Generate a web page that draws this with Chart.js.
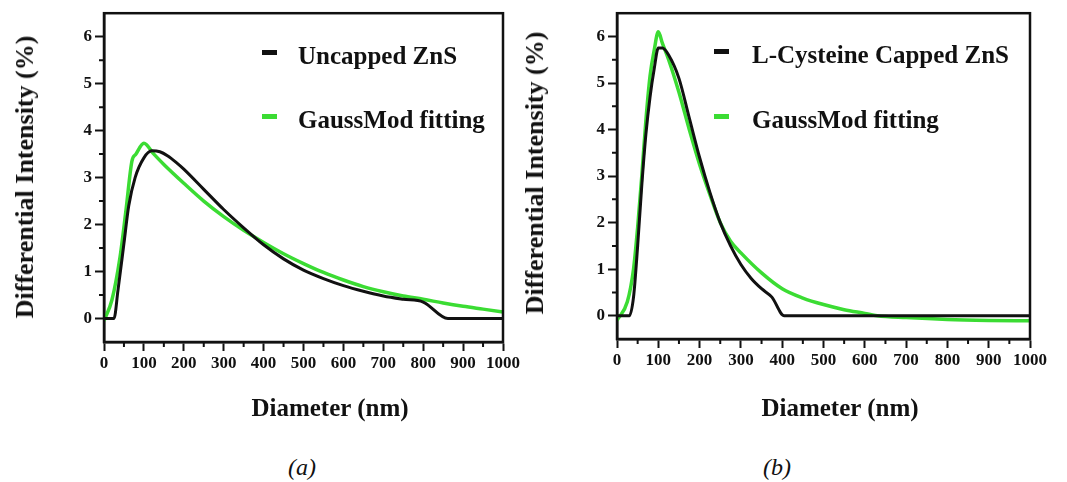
<!DOCTYPE html>
<html lang="en">
<head>
<meta charset="UTF-8">
<title>ZnS particle size distribution</title>
<script src="https://cdn.jsdelivr.net/npm/chart.js"></script>
<style>
  body { margin: 0; width: 1067px; height: 482px; background: #fff; position: relative; overflow: hidden;
         font-family: 'Liberation Serif', 'Times New Roman', serif; color: #111; }
  canvas { position: absolute; top: 0; }
  #chartA { left: 0; }
  #chartB { left: 530px; }
  .lbl { position: absolute; font-weight: bold; white-space: nowrap; font-size: 25px; line-height: 1; }
  .ytitle { font-size: 26px; transform: translate(-50%, -50%) rotate(-90deg); }
  .xtitle { transform: translate(-50%, -50%); }
  .cap { position: absolute; font-style: italic; font-size: 24px; line-height: 1; transform: translate(-50%, -50%); }
  .leg { transform: translateY(-50%); }
  .dash { position: absolute; width: 15px; height: 5px; }
</style>
</head>
<body>
<canvas id="chartA" width="530" height="400"></canvas>
<canvas id="chartB" width="537" height="400"></canvas>

<div class="lbl ytitle" style="left:25px; top:177px;">Differential Intensity (%)</div>
<div class="lbl ytitle" style="left:535px; top:173px;">Differential Intensity (%)</div>
<div class="lbl xtitle" style="left:330px; top:407px;">Diameter (nm)</div>
<div class="lbl xtitle" style="left:840px; top:407px;">Diameter (nm)</div>
<div class="cap" style="left:302px; top:467px;">(a)</div>
<div class="cap" style="left:777px; top:467px;">(b)</div>
<div id="legends"></div>

<script>
// axis ticks
const xTicks = [0, 100, 200, 300, 400, 500, 600, 700, 800, 900, 1000];
const xMinor = [50, 150, 250, 350, 450, 550, 650, 750, 850, 950];
const yTicks = [0, 1, 2, 3, 4, 5, 6];
const yMinor = [0.5, 1.5, 2.5, 3.5, 4.5, 5.5];

// (a) uncapped ZnS
const uncappedX = [0, 25, 35, 50, 62, 78, 100, 120, 140, 160, 180, 200, 250, 300, 350, 400, 450, 500, 550, 600, 650, 700, 750, 800, 862, 1000];
const uncappedY = [0, 0, 0.6, 1.6, 2.4, 3.0, 3.42, 3.57, 3.55, 3.46, 3.33, 3.18, 2.75, 2.32, 1.93, 1.57, 1.27, 1.03, 0.85, 0.7, 0.58, 0.48, 0.41, 0.35, 0, 0];
const uncappedFitX = [0, 20, 40, 55, 70, 80, 100, 125, 150, 200, 250, 300, 350, 400, 450, 500, 550, 600, 650, 700, 750, 800, 850, 900, 950, 1000];
const uncappedFitY = [-0.05, 0.4, 1.3, 2.3, 3.35, 3.5, 3.73, 3.5, 3.28, 2.88, 2.5, 2.17, 1.88, 1.62, 1.38, 1.17, 0.98, 0.82, 0.68, 0.57, 0.48, 0.41, 0.33, 0.26, 0.2, 0.14];

// (b) L-cysteine capped ZnS
const cappedX = [0, 30, 40, 50, 60, 70, 80, 90, 100, 110, 125, 150, 175, 200, 225, 250, 275, 300, 325, 350, 375, 405, 1000];
const cappedY = [0, 0, 0.4, 1.5, 2.8, 3.9, 4.7, 5.3, 5.75, 5.75, 5.6, 5.1, 4.25, 3.4, 2.65, 2.0, 1.5, 1.1, 0.8, 0.58, 0.4, 0, 0];
const cappedFitX = [0, 25, 40, 50, 60, 70, 80, 90, 100, 110, 125, 150, 175, 200, 225, 250, 275, 300, 350, 400, 450, 500, 550, 600, 630, 700, 800, 900, 1000];
const cappedFitY = [-0.1, 0.3, 1.0, 1.9, 3.0, 4.2, 5.15, 5.7, 6.1, 5.85, 5.5, 4.8, 4.0, 3.25, 2.6, 2.0, 1.6, 1.35, 0.92, 0.58, 0.38, 0.24, 0.13, 0.05, 0, -0.04, -0.08, -0.1, -0.11];

const BLACK = '#111111';
const GREEN = '#3bdc33';
const tickFont = { family: 'Liberation Serif', size: 17, weight: 'bold' };

function toPoints(xs, ys) {
  return xs.map((x, i) => ({ x: x, y: ys[i] }));
}

function line(label, xs, ys, color, width) {
  return {
    label: label,
    data: toPoints(xs, ys),
    borderColor: color,
    borderWidth: width,
    pointRadius: 0,
    fill: false,
    cubicInterpolationMode: 'monotone'
  };
}

// box around the plot + minor ticks
const frame = {
  id: 'frame',
  afterDraw(chart) {
    const { ctx, chartArea: a, scales } = chart;
    ctx.save();
    ctx.strokeStyle = BLACK;
    ctx.lineWidth = 2.5;
    ctx.strokeRect(a.left, a.top, a.right - a.left, a.bottom - a.top);
    ctx.lineWidth = 2;
    ctx.beginPath();
    xMinor.forEach(v => {
      const px = scales.x.getPixelForValue(v);
      ctx.moveTo(px, a.bottom);
      ctx.lineTo(px, a.bottom + 5);
    });
    yMinor.forEach(v => {
      const py = scales.y.getPixelForValue(v);
      ctx.moveTo(a.left, py);
      ctx.lineTo(a.left - 5, py);
    });
    ctx.stroke();
    ctx.restore();
  }
};

function makeChart(id, datasets, pad, yWidth, xHeight) {
  return new Chart(document.getElementById(id), {
    type: 'line',
    data: { datasets: datasets },
    options: {
      responsive: false,
      animation: false,
      layout: { padding: pad },
      plugins: { legend: { display: false }, tooltip: { enabled: false } },
      scales: {
        x: {
          type: 'linear', min: 0, max: 1000,
          afterBuildTicks: s => { s.ticks = xTicks.map(v => ({ value: v })); },
          afterFit: s => { s.height = xHeight; },
          grid: { drawOnChartArea: false, tickLength: 9, tickWidth: 2, tickColor: BLACK },
          border: { color: BLACK, width: 2.5 },
          ticks: { font: tickFont, color: BLACK, padding: 2, maxRotation: 0, callback: v => String(v) }
        },
        y: {
          type: 'linear', min: -0.5, max: 6.5,
          afterBuildTicks: s => { s.ticks = yTicks.map(v => ({ value: v })); },
          afterFit: s => { s.width = yWidth; },
          grid: { drawOnChartArea: false, tickLength: 9, tickWidth: 2, tickColor: BLACK },
          border: { color: BLACK, width: 2.5 },
          ticks: { font: tickFont, color: BLACK, padding: 3, callback: v => String(v) }
        }
      }
    },
    plugins: [frame]
  });
}

const setA = [
  line('Uncapped ZnS', uncappedX, uncappedY, BLACK, 3),
  line('GaussMod fitting', uncappedFitX, uncappedFitY, GREEN, 3.5)
];
const setB = [
  line('L-Cysteine Capped ZnS', cappedX, cappedY, BLACK, 3),
  line('GaussMod fitting', cappedFitX, cappedFitY, GREEN, 3.5)
];

makeChart('chartA', setA, { left: 0, top: 10, right: 27, bottom: 0 }, 104, 58);
makeChart('chartB', setB, { left: 0, top: 6, right: 37, bottom: 0 }, 87, 61);

// legends (html, placed inside each plot)
function addLegend(sets, dashX, textX, rowsY) {
  const box = document.getElementById('legends');
  sets.forEach((ds, i) => {
    const d = document.createElement('div');
    d.className = 'dash';
    d.style.left = dashX + 'px';
    d.style.top = (rowsY[i] - 3) + 'px';
    d.style.background = ds.borderColor;
    box.appendChild(d);
    const t = document.createElement('div');
    t.className = 'lbl leg';
    t.style.left = textX + 'px';
    t.style.top = (rowsY[i] + 2) + 'px';
    t.textContent = ds.label;
    box.appendChild(t);
  });
}
addLegend(setA, 262, 298, [53, 117]);
addLegend(setB, 714, 752, [52, 117]);
</script>
</body>
</html>
